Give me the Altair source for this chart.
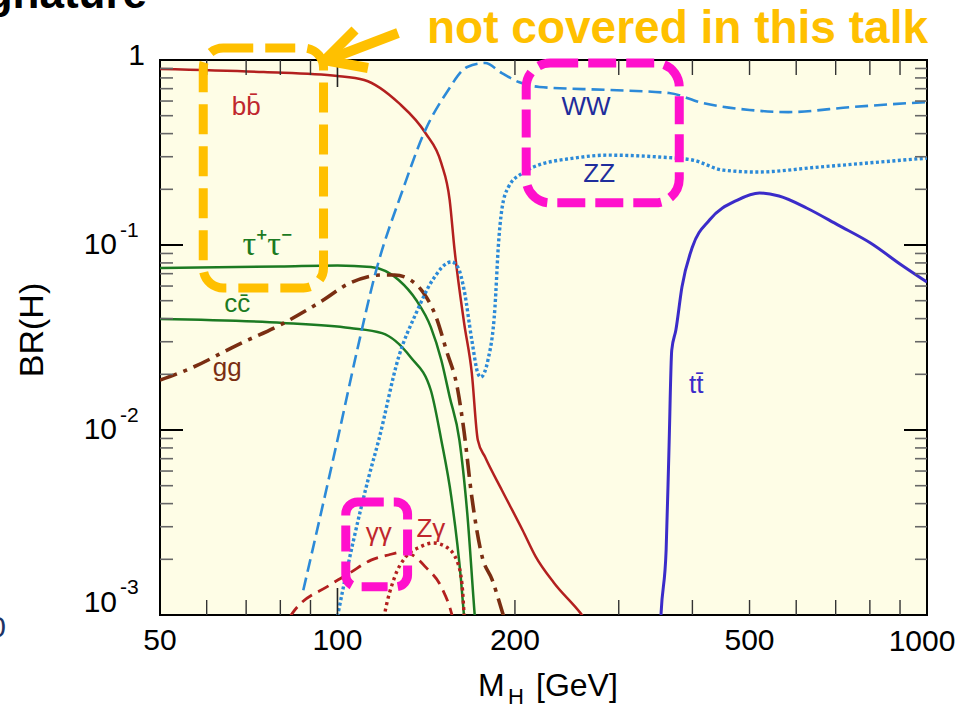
import altair as alt
import pandas as pd

# Standard-model Higgs branching ratios, BR(H) against M_H [GeV]
bb_mass = [50, 75, 100, 111, 127, 141, 150, 155, 158, 164, 169, 173, 178, 190, 206, 217, 233, 258, 275]
bb_br = [0.894, 0.86, 0.82, 0.78, 0.586, 0.403, 0.277, 0.175, 0.094, 0.0379, 0.0203, 0.00883,
         0.00714, 0.00474, 0.00288, 0.00206, 0.00149, 0.00103, 0.00078]

tau_mass = [50, 80, 100, 114, 127, 136, 144, 150, 155, 161, 166, 171, 174]
tau_br = [0.0752, 0.0765, 0.0775, 0.076, 0.0647, 0.0504, 0.036, 0.0239, 0.0151, 0.00883,
          0.00356, 0.00098, 0.0005]

cc_mass = [50, 81, 105, 119, 133, 144, 150, 156, 162, 164, 167]
cc_br = [0.0398, 0.0379, 0.0356, 0.0334, 0.0248, 0.0164, 0.00883, 0.00434, 0.00155, 0.00097, 0.0005]

gg_mass = [50, 57, 67.6, 80, 93.5, 105, 119, 125, 133, 140, 147, 153, 160, 164, 169, 176, 183, 190, 195]
gg_br = [0.0186, 0.0219, 0.0288, 0.037, 0.0492, 0.0623, 0.0689, 0.0689, 0.0647, 0.055, 0.0408,
         0.027, 0.0164, 0.00975, 0.00434, 0.00206, 0.00155, 0.00106, 0.0008]

ww_mass = [87.5, 100, 108, 116, 129, 141, 153, 166, 178, 190, 203, 220, 287, 365, 416, 500, 582, 745, 1000]
ww_br = [0.00136, 0.00883, 0.027, 0.0706, 0.198, 0.419, 0.663, 0.917, 0.963, 0.85, 0.76, 0.715,
         0.689, 0.663, 0.586, 0.537, 0.523, 0.557, 0.593]

zz_mass = [98, 100, 113, 117.5, 127, 136, 145, 156, 160, 164, 169, 173, 175, 180, 185, 187.5, 190,
           195, 206, 215, 252, 287, 351, 400, 451, 515, 657, 1000]
zz_br = [0.0007, 0.00098, 0.00557, 0.00883, 0.0248, 0.0429, 0.0647, 0.081, 0.076, 0.0571, 0.0306,
         0.0203, 0.0193, 0.0239, 0.0462, 0.1, 0.155, 0.206, 0.245, 0.264, 0.295, 0.306, 0.299,
         0.288, 0.254, 0.248, 0.264, 0.295]

tt_mass = [352, 354, 361, 365, 369, 375, 384, 400, 428, 477, 520, 561, 626, 707, 802, 905, 1000]
tt_br = [0.0007, 0.00103, 0.00225, 0.0078, 0.027, 0.0347, 0.0593, 0.0975, 0.137, 0.175, 0.191,
         0.184, 0.158, 0.128, 0.1025, 0.078, 0.063]

aa_mass = [80, 84, 97, 105, 114, 122, 129, 134, 141, 150, 156, 159]
aa_br = [0.0008, 0.00103, 0.00145, 0.00169, 0.00198, 0.00211, 0.00219, 0.00211, 0.00182,
         0.00142, 0.00103, 0.0008]

za_mass = [118, 120, 125, 130.5, 138, 145.5, 153, 160, 163, 164, 165]
za_br = [0.0007, 0.00098, 0.0016, 0.00206, 0.00233, 0.00245, 0.00233, 0.00191, 0.00136,
         0.00098, 0.0007]

# channel labels placed next to their curves
label_text = ["bb\u0304", "cc\u0304", "gg", "WW", "ZZ", "tt\u0304", "\u03b3\u03b3", "Z\u03b3"]
label_mass = [70, 67.6, 65, 264, 278, 406, 117.5, 144]
label_br = [0.505, 0.0434, 0.0196, 0.505, 0.219, 0.0158, 0.00251, 0.00264]
label_color = ["#C0272D", "#1C7A22", "#7A2E12", "#1F2D9C", "#1F2D9C", "#3B2CC9", "#C0272D", "#C0272D"]
tau_label = "\u03c4\u207a\u03c4\u207b"
tau_label_mass = 76
tau_label_br = 0.0883

# axis ticks and labels
x_label_values = [50, 100, 200, 500]
x_label_last = 1000
x_minor_ticks = [60, 70, 80, 90, 200, 300, 400, 500, 600, 700, 800, 900]
x_major_ticks = [100]
y_major_ticks = [0.01, 0.1]
y_minor_ticks = [k * 10.0 ** e for e in (-3, -2, -1) for k in range(2, 10)]
y_exp_values = [0.1, 0.01]
y_exp_text = ["-1", "-2"]

W, H = 767, 555
BG = "#FEFDE6"
RED, GREEN, BROWN = "#B3201F", "#1C7A22", "#7A2E12"
BLUE, TOP = "#2C8AD8", "#3B2CC9"
ORANGE, MAGENTA = "#FFC000", "#FF10CC"
FONT = "Liberation Sans"

xs = alt.Scale(type="log", domain=[50, 1000], nice=False)
ys = alt.Scale(type="log", domain=[0.001, 1], nice=False)
one = pd.DataFrame({"k": [0]})


def curve(mass, br, color, width, dash=None):
    df = pd.DataFrame({"m": mass, "br": br})
    props = dict(color=color, strokeWidth=width, interpolate="monotone", clip=True)
    if dash:
        props["strokeDash"] = dash
    return alt.Chart(df).mark_line(**props).encode(
        x=alt.X("m:Q", scale=xs, axis=None),
        y=alt.Y("br:Q", scale=ys, axis=None),
        order="m:Q",
    )


curves = [
    curve(bb_mass, bb_br, RED, 2.5),
    curve(tau_mass, tau_br, GREEN, 2.5),
    curve(cc_mass, cc_br, GREEN, 2.5),
    curve(gg_mass, gg_br, BROWN, 3.6, dash=[18, 7, 4, 7]),
    curve(ww_mass, ww_br, BLUE, 2.6, dash=[13, 6]),
    curve(zz_mass, zz_br, BLUE, 3.4, dash=[3, 2.5]),
    curve(tt_mass, tt_br, TOP, 3.0),
    curve(aa_mass, aa_br, RED, 2.8, dash=[12, 7]),
    curve(za_mass, za_br, RED, 3.4, dash=[3, 3.5]),
]

labels_df = pd.DataFrame({"m": label_mass, "br": label_br, "t": label_text, "c": label_color})
labels = alt.Chart(labels_df).mark_text(fontSize=26, font=FONT, baseline="alphabetic").encode(
    x=alt.X("m:Q", scale=xs, axis=None),
    y=alt.Y("br:Q", scale=ys, axis=None),
    text="t:N",
    color=alt.Color("c:N", scale=None),
)
tau_text = alt.Chart(pd.DataFrame({"m": [tau_label_mass], "br": [tau_label_br]})).mark_text(
    text=tau_label, fontSize=34, font="Liberation Serif", color=GREEN, baseline="alphabetic"
).encode(x=alt.X("m:Q", scale=xs, axis=None), y=alt.Y("br:Q", scale=ys, axis=None))


def xticks(vals, y0, y1, color, width):
    return alt.Chart(pd.DataFrame({"v": vals})).mark_rule(color=color, strokeWidth=width).encode(
        x=alt.X("v:Q", scale=xs, axis=None), y=alt.value(y0), y2=alt.value(y1))


def yticks(vals, x0, x1, color, width):
    return alt.Chart(pd.DataFrame({"v": vals})).mark_rule(color=color, strokeWidth=width).encode(
        y=alt.Y("v:Q", scale=ys, axis=None), x=alt.value(x0), x2=alt.value(x1))


ticks = [
    xticks(x_minor_ticks, H, H - 15, "#333", 1.4),
    xticks(x_minor_ticks, 0, 15, "#333", 1.4),
    xticks(x_major_ticks, H, H - 27, "#222", 1.6),
    xticks(x_major_ticks, 0, 27, "#222", 1.6),
    yticks(y_minor_ticks, 0, 13, "#666", 1.6),
    yticks(y_minor_ticks, W, W - 12, "#666", 1.6),
    yticks(y_major_ticks, 0, 23, "black", 2),
    yticks(y_major_ticks, W, W - 23, "black", 2),
]

# x tick labels along the bottom edge
x_labels = [
    alt.Chart(pd.DataFrame({"v": x_label_values})).mark_text(
        fontSize=30, font=FONT, baseline="alphabetic", align="center"
    ).encode(x=alt.X("v:Q", scale=xs, axis=None), y=alt.value(H + 35), text=alt.Text("v:Q", format="d")),
    alt.Chart(pd.DataFrame({"v": [x_label_last]})).mark_text(
        fontSize=30, font=FONT, baseline="alphabetic", align="center", dx=-5
    ).encode(x=alt.X("v:Q", scale=xs, axis=None), y=alt.value(H + 36), text=alt.Text("v:Q", format="d")),
]

# y tick labels: "1", then powers of ten written as 10 with a raised exponent
exp_df = pd.DataFrame({"v": y_exp_values, "e": y_exp_text})
y_labels = [
    alt.Chart(pd.DataFrame({"v": [1.0]})).mark_text(
        text="1", fontSize=30, font=FONT, align="right", baseline="middle", dy=-4
    ).encode(x=alt.value(-15), y=alt.Y("v:Q", scale=ys, axis=None)),
    alt.Chart(exp_df).mark_text(
        text="10", fontSize=30, font=FONT, align="right", baseline="middle"
    ).encode(x=alt.value(-43), y=alt.Y("v:Q", scale=ys, axis=None)),
    alt.Chart(exp_df).mark_text(
        fontSize=21, font=FONT, align="left", baseline="middle", dy=-14
    ).encode(x=alt.value(-40), y=alt.Y("v:Q", scale=ys, axis=None), text="e:N"),
    alt.Chart(pd.DataFrame({"v": [0.001]})).mark_text(
        text="10", fontSize=30, font=FONT, align="right", baseline="middle", dy=-12
    ).encode(x=alt.value(-43), y=alt.Y("v:Q", scale=ys, axis=None)),
    alt.Chart(pd.DataFrame({"v": [0.001]})).mark_text(
        text="-3", fontSize=21, font=FONT, align="left", baseline="middle", dy=-27
    ).encode(x=alt.value(-40), y=alt.Y("v:Q", scale=ys, axis=None)),
]


def note(text, x, y, **kw):
    return alt.Chart(one).mark_text(text=text, **kw).encode(x=alt.value(x), y=alt.value(y))


titles = [
    note("M", 318, 636, fontSize=32, font=FONT, align="left", baseline="alphabetic"),
    note("H", 348, 644, fontSize=22, font=FONT, align="left", baseline="alphabetic"),
    note("[GeV]", 376, 636, fontSize=32, font=FONT, align="left", baseline="alphabetic"),
    note("BR(H)", -127, 270, fontSize=34, font=FONT, angle=270, align="center", baseline="middle"),
    note("Signature", -13, -52, fontSize=44, font=FONT, fontWeight="bold", align="right",
         baseline="alphabetic", color="black"),
    note("0", -154, 568, fontSize=30, font=FONT, align="right", baseline="middle", color="#1F3466"),
    note("not covered in this talk", 267, -17, fontSize=46, font=FONT, fontWeight="bold",
         align="left", baseline="alphabetic", color=ORANGE),
]


def box(m1, m2, b1, b2, color, radius, dash):
    df = pd.DataFrame({"m1": [m1], "m2": [m2], "b1": [b1], "b2": [b2]})
    return alt.Chart(df).mark_rect(
        fillOpacity=0, stroke=color, strokeWidth=9, strokeDash=dash, cornerRadius=radius,
        clip=False
    ).encode(
        x=alt.X("m1:Q", scale=xs, axis=None), x2="m2:Q",
        y=alt.Y("b1:Q", scale=ys, axis=None), y2="b2:Q",
    )


boxes = [
    box(59.2, 94.7, 1.161, 0.0586, ORANGE, 20, [30, 12]),
    box(209, 380, 0.963, 0.169, MAGENTA, 24, [28, 10]),
    box(103.3, 131.5, 0.00408, 0.00142, MAGENTA, 12, [26, 10]),
]


def seg(x0, y0, x1, y1):
    return alt.Chart(one).mark_rule(color=ORANGE, strokeWidth=10, strokeCap="butt").encode(
        x=alt.value(x0), y=alt.value(y0), x2=alt.value(x1), y2=alt.value(y1))


arrow = [
    seg(238, -27, 170, -1),
    seg(164, 1, 195, -30),
    seg(164, 0, 208, 8),
]

chart = alt.layer(*curves, labels, tau_text, *ticks, *x_labels, *y_labels, *titles, *boxes, *arrow).properties(
    width=W,
    height=H,
    background="white",
    autosize=alt.AutoSizeParams(type="none"),
    padding={"left": 160, "top": 60, "right": 34, "bottom": 95},
).configure_view(fill=BG, stroke="black", strokeWidth=2)

chart.save("out.html", embed_options={"renderer": "svg", "actions": False})
